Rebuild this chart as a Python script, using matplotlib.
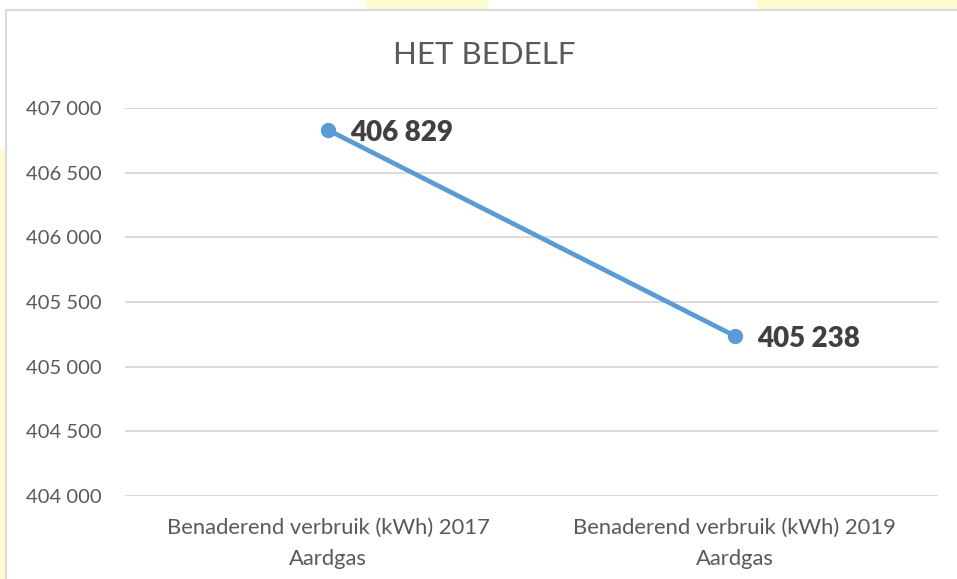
import matplotlib.pyplot as plt
from matplotlib.patches import Rectangle

# Data
categories = ["Benaderend verbruik (kWh) 2017\nAardgas",
              "Benaderend verbruik (kWh) 2019\nAardgas"]
values = [406829, 405238]
y_ticks = [404000, 404500, 405000, 405500, 406000, 406500, 407000]
y_tick_labels = ["404 000", "404 500", "405 000", "405 500",
                 "406 000", "406 500", "407 000"]
title = "HET BEDELF"

plt.rcParams['font.family'] = ['Lato', 'DejaVu Sans']

W, H = 957, 579
fig = plt.figure(figsize=(W / 100, H / 100), dpi=100)
fig.patch.set_facecolor('white')

# Yellow glow around the chart frame
glow = '#FFFBD3'
for (x0, y0, w, h) in [(0, 0, 6, 430), (366, 569, 122, 10), (757, 569, 200, 10)]:
    fig.add_artist(Rectangle((x0 / W, y0 / H), w / W, h / H,
                             transform=fig.transFigure, facecolor=glow,
                             edgecolor='none', zorder=0))

# Chart frame
fig.add_artist(Rectangle((6 / W, -0.05), 1.2, (H - 10) / H + 0.05,
                         transform=fig.transFigure, facecolor='none',
                         edgecolor='#D9D9D9', linewidth=1.5, zorder=1))

ax = fig.add_axes([125 / W, 1 - 496 / H, (938 - 125) / W, (496 - 108) / H])
ax.set_facecolor('none')

x = list(range(len(categories)))
ax.plot(x, values, color='#5B9BD5', linewidth=3.4, marker='o',
        markersize=10, solid_capstyle='round', zorder=3)

for xi, v in zip(x, values):
    ax.annotate(f"{v:,}".replace(",", " "), xy=(xi, v), xytext=(16, -2),
                textcoords='offset points', ha='left', va='center',
                fontsize=20, fontweight='heavy', color='#404040')

ax.set_xlim(-0.5, len(categories) - 0.5)
ax.set_ylim(404000, 407000)
ax.set_yticks(y_ticks)
ax.set_yticklabels(y_tick_labels)
ax.set_xticks(x)
ax.set_xticklabels(categories, linespacing=1.65, multialignment='center')

ax.grid(axis='y', color='#D9D9D9', linewidth=1.3)
ax.set_axisbelow(True)
for s in ax.spines.values():
    s.set_visible(False)
ax.tick_params(axis='y', length=0, pad=17, labelsize=14.5, labelcolor='#595959')
ax.tick_params(axis='x', length=0, pad=16, labelsize=15.8, labelcolor='#595959')

fig.text(484 / W, 1 - 55 / H, title, ha='center', va='center',
         fontsize=22.5, color='#595959')

fig.savefig("out.png", dpi=100)
